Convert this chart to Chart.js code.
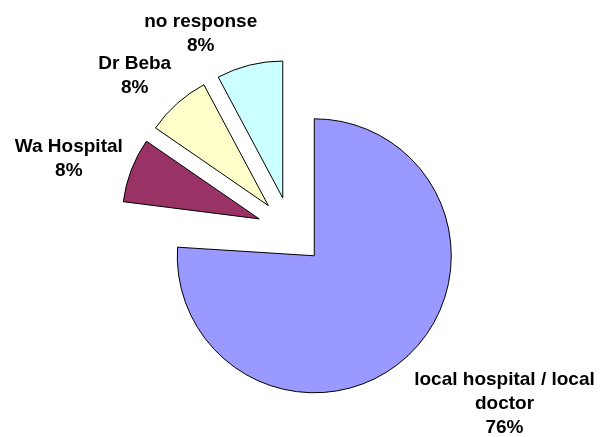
<!DOCTYPE html>
<html>
<head>
<meta charset="utf-8">
<script src="https://cdn.jsdelivr.net/npm/chart.js@4/dist/chart.umd.min.js"></script>
<style>
html, body { margin: 0; padding: 0; background: #fff; }
#wrap { width: 600px; height: 437px; }
</style>
</head>
<body>
<div id="wrap"><canvas id="pieChart" width="600" height="437"></canvas></div>
<script>
// the slices in the picture leave an unlabelled gap of about 1% between
// the big slice and Wa Hospital, kept here as a blank category
const categories = ['local hospital / local doctor', '', 'Wa Hospital', 'Dr Beba', 'no response'];
const shares = [76, 1, 7.6, 7.6, 7.8];
const sliceColours = ['#9999FF', 'rgba(0,0,0,0)', '#993366', '#FFFFCC', '#CCFFFF'];
const edgeColours = ['#000', 'rgba(0,0,0,0)', '#000', '#000', '#000'];

const RADIUS = 137;
const EXPLODE = 34;   // how far every slice is pulled out
const GAP_X = 9, GAP_Y = 18;
const NUDGE_Y = 3;
const LINE_H = 24;
const LABEL_FONT = 'bold 19px "Liberation Sans", Arial, sans-serif';
const WRAP_AT = 190;

// the built in offset option also trims the slice angles a bit, which makes
// the straight edges lean; push each arc's centre out along its middle instead
const explode = {
    id: 'explode',
    afterDatasetUpdate(chart, args) {
        args.meta.data.forEach(arc => {
            const mid = (arc.startAngle + arc.endAngle) / 2;
            arc.x += Math.cos(mid) * EXPLODE;
            arc.y += Math.sin(mid) * EXPLODE;
        });
    }
};

function wrapText(ctx, text) {
    const words = text.split(' ');
    const lines = [];
    let line = '';
    words.forEach(w => {
        const test = line ? line + ' ' + w : w;
        if (line && ctx.measureText(test).width > WRAP_AT) {
            lines.push(line);
            line = w;
        } else {
            line = test;
        }
    });
    lines.push(line);
    return lines;
}

const clamp = v => Math.max(-1, Math.min(1, v));

// excel style labels outside the end of each slice
const outsideLabels = {
    id: 'outsideLabels',
    afterDatasetsDraw(chart) {
        const ctx = chart.ctx;
        const meta = chart.getDatasetMeta(0);
        const total = shares.reduce((a, b) => a + b, 0);
        ctx.save();
        ctx.font = LABEL_FONT;
        ctx.fillStyle = '#000';
        ctx.textAlign = 'center';
        ctx.textBaseline = 'alphabetic';
        const capH = ctx.measureText('H').actualBoundingBoxAscent;
        meta.data.forEach((arc, i) => {
            if (!categories[i]) return;
            const mid = (arc.startAngle + arc.endAngle) / 2;
            const dx = Math.cos(mid), dy = Math.sin(mid);
            const lines = wrapText(ctx, categories[i]);
            lines.push(Math.round(shares[i] / total * 100) + '%');
            const w = Math.max(...lines.map(l => ctx.measureText(l).width));
            const h = (lines.length - 1) * LINE_H + capH;
            const ax = arc.x + dx * (arc.outerRadius + GAP_X);
            const ay = arc.y + dy * (arc.outerRadius + GAP_Y);
            const fx = 0.5 - 0.5 * clamp(dx * 3.4);
            const fy = 0.5 - 0.5 * clamp(dy * 1.4);
            const left = ax - fx * w, top = ay - fy * h + NUDGE_Y;
            lines.forEach((l, k) => ctx.fillText(l, left + w / 2, top + capH + k * LINE_H));
        });
        ctx.restore();
    }
};

new Chart(document.getElementById('pieChart'), {
    type: 'pie',
    data: {
        labels: categories,
        datasets: [{
            data: shares,
            backgroundColor: sliceColours,
            borderColor: edgeColours,
            borderWidth: 1,
            radius: RADIUS
        }]
    },
    options: {
        responsive: false,
        animation: false,
        events: [],
        layout: { padding: { left: 0, right: 18, top: 25, bottom: 0 } },
        plugins: {
            legend: { display: false },
            tooltip: { enabled: false }
        }
    },
    plugins: [explode, outsideLabels]
});
</script>
</body>
</html>
